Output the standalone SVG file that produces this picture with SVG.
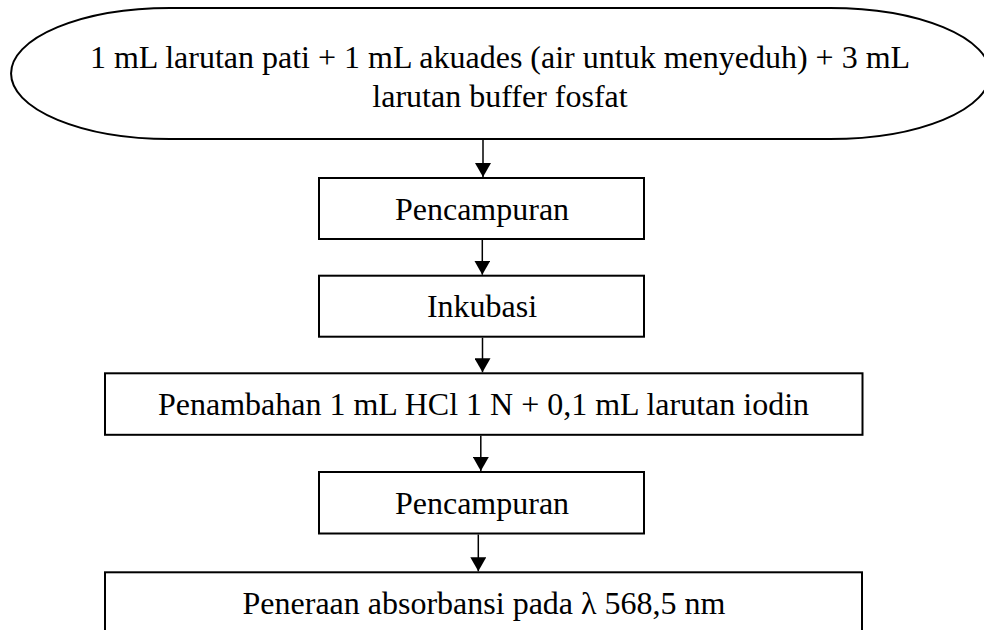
<svg xmlns="http://www.w3.org/2000/svg" width="984" height="630" viewBox="0 0 984 630">
  <style>
    .shape { fill: #ffffff; stroke: #000000; stroke-width: 2; }
    .label { font-family: "Liberation Serif", "Times New Roman", serif; font-size: 32px; fill: #000000; text-anchor: middle; }
    .conn { stroke: #000000; stroke-width: 1.5; fill: none; marker-end: url(#arr); }
  </style>
  <defs>
    <marker id="arr" markerUnits="userSpaceOnUse" markerWidth="15" markerHeight="16" refX="14" refY="8" orient="auto">
      <path d="M0,0 L14,8 L0,16 Z" fill="#000000"/>
    </marker>
  </defs>
  <rect x="0" y="0" width="984" height="630" fill="#ffffff"/>

  <g id="start">
    <path class="shape" d="M 170 8 H 830 A 160 65.5 0 0 1 830 139 H 170 A 159 65.5 0 0 1 170 8 Z"/>
    <text class="label" x="500" y="68">1 mL larutan pati + 1 mL akuades (air untuk menyeduh) + 3 mL</text>
    <text class="label" x="500" y="106.5">larutan buffer fosfat</text>
  </g>

  <g id="pencampuran1">
    <rect class="shape" x="319" y="178" width="325" height="61"/>
    <text class="label" x="482" y="219.5">Pencampuran</text>
  </g>

  <g id="inkubasi">
    <rect class="shape" x="319" y="275.7" width="325" height="61"/>
    <text class="label" x="482" y="316.8">Inkubasi</text>
  </g>

  <g id="penambahan">
    <rect class="shape" x="105" y="373.3" width="757.5" height="61.5"/>
    <text class="label" x="483.5" y="414.5">Penambahan 1 mL HCl 1 N + 0,1 mL larutan iodin</text>
  </g>

  <g id="pencampuran2">
    <rect class="shape" x="319" y="472" width="325" height="61.5"/>
    <text class="label" x="482" y="513.5">Pencampuran</text>
  </g>

  <g id="peneraan">
    <rect class="shape" x="105" y="572.3" width="757" height="62"/>
    <text class="label" x="484" y="613.5">Peneraan absorbansi pada λ 568,5 nm</text>
  </g>

  <g id="connectors">
    <line class="conn" x1="483" y1="140" x2="483" y2="177"/>
    <line class="conn" x1="482.3" y1="240" x2="482.3" y2="274.7"/>
    <line class="conn" x1="482.5" y1="337.7" x2="482.5" y2="372.3"/>
    <line class="conn" x1="480.8" y1="435.8" x2="480.8" y2="471"/>
    <line class="conn" x1="478.3" y1="534.5" x2="478.3" y2="571.3"/>
  </g>
</svg>
